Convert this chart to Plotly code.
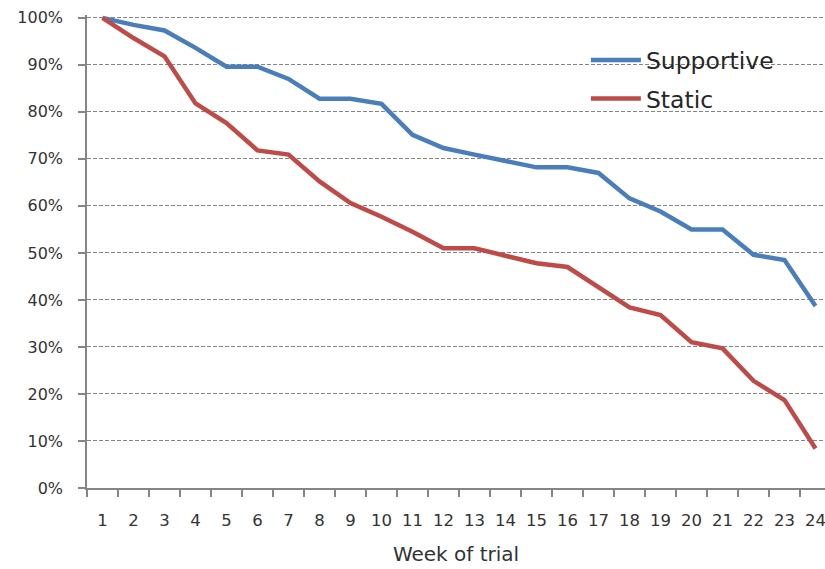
import plotly.graph_objects as go

# Retention by week of trial for the two programme arms
weeks = [str(w) for w in range(1, 25)]
supportive = [1.000, 0.985, 0.973, 0.936, 0.896, 0.896, 0.870, 0.828, 0.828, 0.817,
              0.751, 0.723, 0.709, 0.696, 0.682, 0.682, 0.670, 0.616, 0.588, 0.550,
              0.550, 0.496, 0.485, 0.387]
static = [1.000, 0.957, 0.918, 0.818, 0.776, 0.718, 0.709, 0.652, 0.606, 0.577,
          0.545, 0.510, 0.510, 0.494, 0.478, 0.470, 0.428, 0.384, 0.368, 0.310,
          0.297, 0.228, 0.187, 0.084]
y_ticks = [i / 10 for i in range(11)]
y_tick_text = [f"{i * 10}%" for i in range(11)]

FONT = "DejaVu Sans"
TEXT = "#333333"
GREY = "#858585"

fig = go.Figure()
fig.add_trace(go.Scatter(x=weeks, y=supportive, name="Supportive", mode="lines",
                         line=dict(color="#4a7ebb", width=4.5), legendgroup="a"))
fig.add_trace(go.Scatter(x=weeks, y=static, name="Static", mode="lines",
                         line=dict(color="#be4b48", width=4.5), legendgroup="b"))

fig.update_layout(
    width=825, height=569,
    margin=dict(l=87, r=0, t=15, b=81),
    paper_bgcolor="white", plot_bgcolor="white",
    font=dict(family=FONT, color=TEXT, size=16),
    showlegend=True,
    legend=dict(x=0.676, y=0.951, xanchor="left", yanchor="top",
                bgcolor="rgba(0,0,0,0)", font=dict(size=23.5, color="#262626"),
                itemwidth=50, tracegroupgap=5, traceorder="grouped"),
    xaxis=dict(
        type="category", range=[-0.5, 23.306], tickangle=0,
        tickson="boundaries", ticks="outside", ticklen=7, tickcolor=GREY, tickwidth=1.5,
        showline=True, linecolor=GREY, linewidth=1.5, showgrid=False,
        tickfont=dict(size=16.5, color=TEXT), ticklabelstandoff=16,
        title=dict(text="Week of trial", font=dict(size=20, color=TEXT), standoff=18),
    ),
    yaxis=dict(
        range=[0, 1.006], tickvals=y_ticks, ticktext=y_tick_text,
        ticks="outside", ticklen=7, tickcolor=GREY, tickwidth=1.5,
        showline=True, linecolor=GREY, linewidth=1.5,
        showgrid=True, gridcolor=GREY, gridwidth=1, griddash="4px,2px",
        zeroline=False, ticklabelstandoff=12,
        tickfont=dict(size=16, color=TEXT),
    ),
)

fig.write_html("out.html")
